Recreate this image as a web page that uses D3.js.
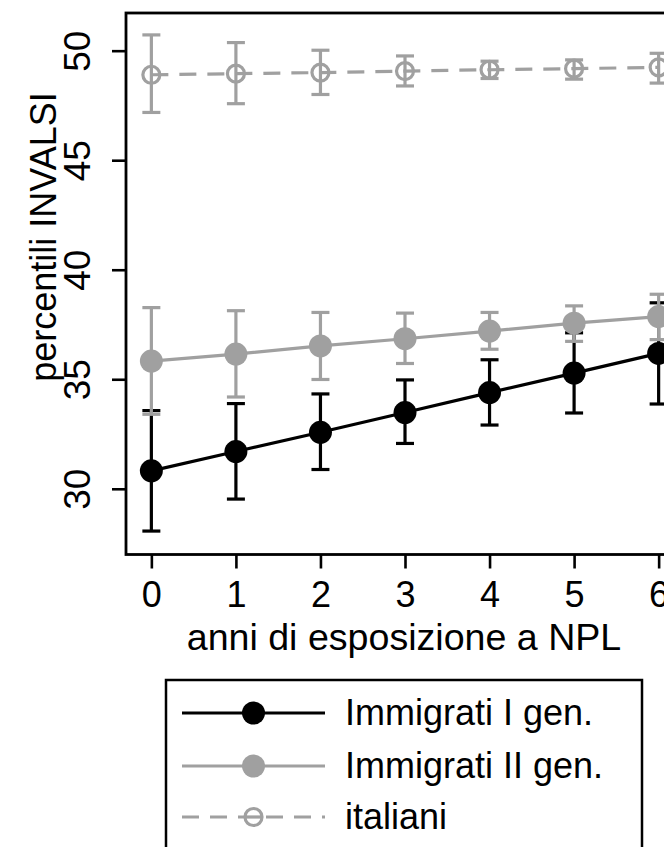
<!DOCTYPE html>
<html>
<head>
<meta charset="utf-8">
<script src="https://cdn.jsdelivr.net/npm/d3@7"></script>
<style>
  html, body { margin: 0; padding: 0; background: #fff; overflow: hidden; }
  svg { display: block; font-family: "Liberation Sans", Arial, Helvetica, sans-serif; }
</style>
</head>
<body>
<svg id="chart" width="664" height="847"></svg>
<script>
// ---- data ----
const years = [0, 1, 2, 3, 4, 5, 6];
const xTicks = [0, 1, 2, 3, 4, 5, 6];
const yTicks = [30, 35, 40, 45, 50];

const gen1   = [30.82, 31.70, 32.58, 33.48, 34.39, 35.28, 36.18];
const gen1Lo = [28.07, 29.53, 30.88, 32.07, 32.91, 33.46, 33.87];
const gen1Hi = [33.57, 33.89, 34.33, 34.97, 35.89, 37.12, 38.49];

const gen2   = [35.83, 36.15, 36.52, 36.85, 37.20, 37.56, 37.86];
const gen2Lo = [33.40, 34.19, 34.99, 35.72, 36.37, 36.73, 36.81];
const gen2Hi = [38.27, 38.13, 38.05, 38.02, 38.05, 38.35, 38.88];

const ita    = [48.90, 48.95, 49.00, 49.07, 49.13, 49.18, 49.24];
const itaLo  = [47.18, 47.58, 48.00, 48.39, 48.73, 48.70, 48.52];
const itaHi  = [50.72, 50.37, 50.02, 49.76, 49.52, 49.58, 49.88];

const seriesNames = ["Immigrati I gen.", "Immigrati II gen.", "italiani"];
const xTitle = "anni di esposizione a NPL";
const yTitle = "percentili INVALSI";

// ---- styles ----
const BLACK = "#000000";
const GREY = "#a0a0a0";
const FS = 36;
const SW = 3.2;

const series = [
  { name: seriesNames[0], v: gen1, lo: gen1Lo, hi: gen1Hi, color: BLACK, dash: null, hollow: false },
  { name: seriesNames[1], v: gen2, lo: gen2Lo, hi: gen2Hi, color: GREY, dash: null, hollow: false },
  { name: seriesNames[2], v: ita,  lo: itaLo,  hi: itaHi,  color: GREY, dash: "17,11", hollow: true }
];

const svg = d3.select("#chart");

const plot = { left: 126, right: 684, top: 13, bottom: 554.5 };
const x = d3.scaleLinear().domain([-0.3, 6.3]).range([plot.left, plot.right]);
const y = d3.scaleLinear().domain([27, 51.72]).range([plot.bottom, plot.top]);

// y axis
const yAxis = svg.append("g")
  .attr("transform", `translate(${plot.left},0)`)
  .call(d3.axisLeft(y).tickValues(yTicks).tickSize(14).tickSizeOuter(0).tickFormat(d3.format("d")));
yAxis.select(".domain").remove();
yAxis.selectAll(".tick line").attr("stroke", BLACK).attr("stroke-width", 2.6);
yAxis.selectAll(".tick text")
  .attr("x", null).attr("dy", null)
  .attr("transform", "translate(-36,0) rotate(-90)")
  .attr("text-anchor", "middle")
  .attr("fill", BLACK)
  .style("font-size", (FS + 1) + "px");

// x axis
const xAxis = svg.append("g")
  .attr("transform", `translate(0,${plot.bottom})`)
  .call(d3.axisBottom(x).tickValues(xTicks).tickSize(14).tickSizeOuter(0).tickFormat(d3.format("d")));
xAxis.select(".domain").remove();
xAxis.selectAll(".tick line").attr("stroke", BLACK).attr("stroke-width", 2.6);
xAxis.selectAll(".tick text")
  .attr("y", 52).attr("dy", null)
  .attr("fill", BLACK)
  .style("font-size", FS + "px");

// frame
svg.append("rect")
  .attr("x", plot.left).attr("y", plot.top)
  .attr("width", plot.right - plot.left).attr("height", plot.bottom - plot.top)
  .attr("fill", "none").attr("stroke", BLACK).attr("stroke-width", 2.8);

// titles
svg.append("text")
  .attr("transform", `translate(56,237) rotate(-90)`)
  .attr("text-anchor", "middle")
  .style("font-size", FS + "px")
  .text(yTitle);

svg.append("text")
  .attr("x", 404).attr("y", 650)
  .attr("text-anchor", "middle")
  .style("font-size", "37.6px")
  .text(xTitle);

// series
const capW = 9;
const line = d3.line().x((d, i) => x(years[i])).y(d => y(d));

series.forEach(s => {
  const g = svg.append("g");
  const bars = g.selectAll("g.bar").data(years).enter().append("g");
  bars.append("line")
    .attr("x1", d => x(d)).attr("x2", d => x(d))
    .attr("y1", (d, i) => y(s.lo[i])).attr("y2", (d, i) => y(s.hi[i]))
    .attr("stroke", s.color).attr("stroke-width", SW);
  bars.append("line")
    .attr("x1", d => x(d) - capW).attr("x2", d => x(d) + capW)
    .attr("y1", (d, i) => y(s.lo[i])).attr("y2", (d, i) => y(s.lo[i]))
    .attr("stroke", s.color).attr("stroke-width", SW);
  bars.append("line")
    .attr("x1", d => x(d) - capW).attr("x2", d => x(d) + capW)
    .attr("y1", (d, i) => y(s.hi[i])).attr("y2", (d, i) => y(s.hi[i]))
    .attr("stroke", s.color).attr("stroke-width", SW);

  g.append("path")
    .attr("d", line(s.v))
    .attr("fill", "none")
    .attr("stroke", s.color)
    .attr("stroke-width", SW)
    .attr("stroke-dasharray", s.dash);

  g.selectAll("circle").data(s.v).enter().append("circle")
    .attr("cx", (d, i) => x(years[i]))
    .attr("cy", d => y(d))
    .attr("r", s.hollow ? 8.5 : 11.5)
    .attr("fill", s.hollow ? "none" : s.color)
    .attr("stroke", s.hollow ? s.color : "none")
    .attr("stroke-width", s.hollow ? SW : 0);
});

// legend
const leg = { left: 166, top: 680, right: 642 };
svg.append("rect")
  .attr("x", leg.left).attr("y", leg.top)
  .attr("width", leg.right - leg.left).attr("height", 300)
  .attr("fill", "none").attr("stroke", BLACK).attr("stroke-width", 2.5);

const rowY = [713, 766, 817];
series.forEach((s, i) => {
  const g = svg.append("g");
  g.append("line")
    .attr("x1", 182).attr("x2", 325)
    .attr("y1", rowY[i]).attr("y2", rowY[i])
    .attr("stroke", s.color).attr("stroke-width", SW)
    .attr("stroke-dasharray", s.dash);
  g.append("circle")
    .attr("cx", 253.5).attr("cy", rowY[i])
    .attr("r", s.hollow ? 8.5 : 11.5)
    .attr("fill", s.hollow ? "#fff" : s.color)
    .attr("stroke", s.hollow ? s.color : "none")
    .attr("stroke-width", s.hollow ? SW : 0);
  if (s.hollow) {
    g.append("line")
      .attr("x1", 253.5 - 8.5).attr("x2", 253.5 + 8.5)
      .attr("y1", rowY[i]).attr("y2", rowY[i])
      .attr("stroke", s.color).attr("stroke-width", SW);
  }
  g.append("text")
    .attr("x", 345).attr("y", rowY[i] + 12)
    .style("font-size", FS + "px")
    .text(s.name);
});
</script>
</body>
</html>
